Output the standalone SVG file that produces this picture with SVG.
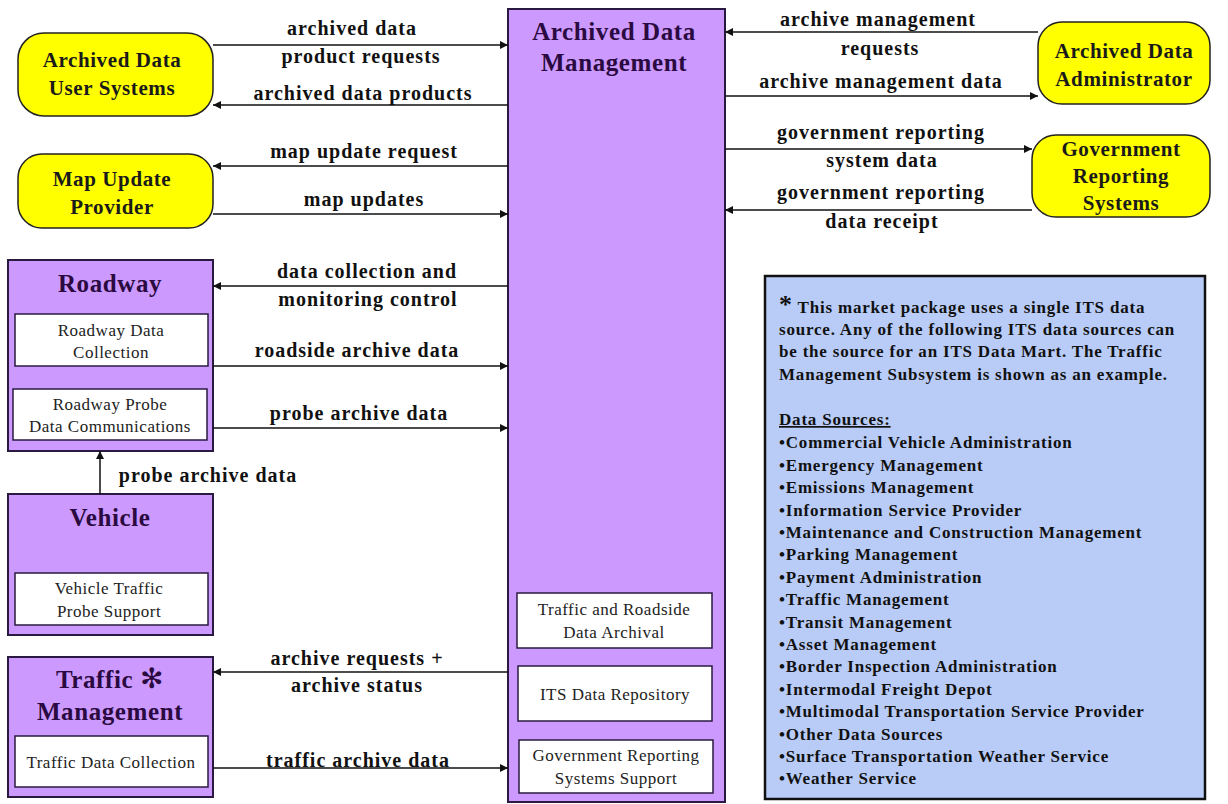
<svg xmlns="http://www.w3.org/2000/svg" width="1228" height="804" viewBox="0 0 1228 804">
<defs>
<marker id="ah" viewBox="0 0 10 10" refX="10" refY="5" markerWidth="10" markerHeight="8" markerUnits="userSpaceOnUse" orient="auto"><path d="M0,0 L10,5 L0,10 z" fill="#111"/></marker>
</defs>
<style>
.term{fill:#ffff00;stroke:#222;stroke-width:1.5}
.sub{fill:#cc99ff;stroke:#2a1a40;stroke-width:2}
.inner{fill:#ffffff;stroke:#2a1a40;stroke-width:1.5}
.note{fill:#b9ccf8;stroke:#111;stroke-width:2.5}
.lbl{font-family:"Liberation Serif",serif;font-weight:bold;font-size:20px;letter-spacing:1px;fill:#111;text-anchor:middle}
.tt{font-family:"Liberation Serif",serif;font-weight:bold;font-size:21px;letter-spacing:0.6px;fill:#1a1a1a;text-anchor:middle}
.st{font-family:"Liberation Serif",serif;font-weight:bold;font-size:25px;letter-spacing:0.6px;fill:#2a0a40;text-anchor:middle}
.it{font-family:"Liberation Serif",serif;font-size:17px;letter-spacing:0.5px;fill:#222;text-anchor:middle}
.nt{font-family:"Liberation Serif",serif;font-weight:bold;font-size:17px;letter-spacing:0.8px;fill:#111}
.cn{stroke:#111;stroke-width:1.5;fill:none;marker-end:url(#ah)}
</style>
<rect width="1228" height="804" fill="#ffffff"/>

<g id="archived-data-management">
<rect class="sub" x="508" y="9" width="217" height="793"/>
<text class="st" x="614" y="40">Archived Data</text>
<text class="st" x="614" y="71">Management</text>
<rect class="inner" x="517" y="593" width="195" height="55"/>
<text class="it" x="614" y="615">Traffic and Roadside</text>
<text class="it" x="614" y="638">Data Archival</text>
<rect class="inner" x="518" y="666" width="194" height="55"/>
<text class="it" x="615" y="700">ITS Data Repository</text>
<rect class="inner" x="519" y="740" width="194" height="53"/>
<text class="it" x="616" y="761">Government Reporting</text>
<text class="it" x="616" y="784">Systems Support</text>
</g>

<g id="archived-data-user-systems">
<rect class="term" x="18" y="33" width="195" height="83" rx="26"/>
<text class="tt" x="112" y="67">Archived Data</text>
<text class="tt" x="112" y="95">User Systems</text>
</g>

<g id="map-update-provider">
<rect class="term" x="18" y="154" width="195" height="74" rx="24"/>
<text class="tt" x="112" y="186">Map Update</text>
<text class="tt" x="112" y="214">Provider</text>
</g>

<g id="archived-data-administrator">
<rect class="term" x="1038" y="22" width="172" height="82" rx="24"/>
<text class="tt" x="1124" y="58">Archived Data</text>
<text class="tt" x="1124" y="86">Administrator</text>
</g>

<g id="government-reporting-systems">
<rect class="term" x="1032" y="135" width="178" height="82" rx="24"/>
<text class="tt" x="1121" y="156">Government</text>
<text class="tt" x="1121" y="183">Reporting</text>
<text class="tt" x="1121" y="210">Systems</text>
</g>

<g id="roadway">
<rect class="sub" x="8" y="260" width="205" height="191"/>
<text class="st" x="110" y="292">Roadway</text>
<rect class="inner" x="15" y="314" width="193" height="52"/>
<text class="it" x="111" y="336">Roadway Data</text>
<text class="it" x="111" y="358">Collection</text>
<rect class="inner" x="13" y="389" width="194" height="51"/>
<text class="it" x="110" y="410">Roadway Probe</text>
<text class="it" x="110" y="432">Data Communications</text>
</g>

<g id="vehicle">
<rect class="sub" x="8" y="494" width="205" height="141"/>
<text class="st" x="110" y="526">Vehicle</text>
<rect class="inner" x="15" y="573" width="193" height="52"/>
<text class="it" x="109" y="594">Vehicle  Traffic</text>
<text class="it" x="109" y="617">Probe Support</text>
</g>

<g id="traffic-management">
<rect class="sub" x="8" y="657" width="205" height="140"/>
<text class="st" x="110" y="688">Traffic <tspan font-family="DejaVu Sans,sans-serif" font-size="28px">✻</tspan></text>
<text class="st" x="110" y="720">Management</text>
<rect class="inner" x="15" y="736" width="193" height="51"/>
<text class="it" x="111" y="768">Traffic Data Collection</text>
</g>

<g id="note">
<rect class="note" x="765" y="276" width="440" height="523"/>
<text class="nt" x="779" y="313"><tspan font-size="26px">*</tspan> This market package uses a single ITS data</text>
<text class="nt" x="779" y="335">source. Any of the following ITS data sources can</text>
<text class="nt" x="779" y="357">be the source for an ITS Data Mart. The Traffic</text>
<text class="nt" x="779" y="380">Management Subsystem is shown as an example.</text>
<text class="nt" x="779" y="425" text-decoration="underline">Data Sources:</text>
<text class="nt" x="779" y="448">•Commercial Vehicle Administration</text>
<text class="nt" x="779" y="471">•Emergency Management</text>
<text class="nt" x="779" y="493">•Emissions Management</text>
<text class="nt" x="779" y="516">•Information Service Provider</text>
<text class="nt" x="779" y="538">•Maintenance and Construction Management</text>
<text class="nt" x="779" y="560">•Parking Management</text>
<text class="nt" x="779" y="583">•Payment Administration</text>
<text class="nt" x="779" y="605">•Traffic Management</text>
<text class="nt" x="779" y="628">•Transit Management</text>
<text class="nt" x="779" y="650">•Asset Management</text>
<text class="nt" x="779" y="672">•Border Inspection Administration</text>
<text class="nt" x="779" y="695">•Intermodal Freight Depot</text>
<text class="nt" x="779" y="717">•Multimodal Transportation Service Provider</text>
<text class="nt" x="779" y="740">•Other Data Sources</text>
<text class="nt" x="779" y="762">•Surface Transportation Weather Service</text>
<text class="nt" x="779" y="784">•Weather Service</text>
</g>

<g id="connectors">
<line class="cn" x1="213" y1="45" x2="508" y2="45"/>
<line class="cn" x1="508" y1="105" x2="213" y2="105"/>
<line class="cn" x1="508" y1="166" x2="213" y2="166"/>
<line class="cn" x1="213" y1="214" x2="508" y2="214"/>
<line class="cn" x1="1038" y1="32" x2="725" y2="32"/>
<line class="cn" x1="725" y1="96" x2="1038" y2="96"/>
<line class="cn" x1="725" y1="149" x2="1032" y2="149"/>
<line class="cn" x1="1032" y1="210" x2="725" y2="210"/>
<line class="cn" x1="508" y1="286" x2="213" y2="286"/>
<line class="cn" x1="213" y1="366" x2="508" y2="366"/>
<line class="cn" x1="213" y1="428" x2="508" y2="428"/>
<line class="cn" x1="100" y1="494" x2="100" y2="451"/>
<line class="cn" x1="508" y1="672" x2="213" y2="672"/>
<line class="cn" x1="213" y1="768" x2="508" y2="768"/>
<g>
<text class="lbl" x="352" y="35">archived data</text>
<text class="lbl" x="361" y="63">product requests</text>
<text class="lbl" x="363" y="100">archived data products</text>
<text class="lbl" x="364" y="158">map update request</text>
<text class="lbl" x="364" y="206">map updates</text>
<text class="lbl" x="878" y="26">archive management</text>
<text class="lbl" x="880" y="55">requests</text>
<text class="lbl" x="881" y="88">archive management data</text>
<text class="lbl" x="881" y="139">government reporting</text>
<text class="lbl" x="882" y="167">system data</text>
<text class="lbl" x="881" y="199">government reporting</text>
<text class="lbl" x="882" y="228">data receipt</text>
<text class="lbl" x="367" y="278">data collection and</text>
<text class="lbl" x="368" y="306">monitoring control</text>
<text class="lbl" x="357" y="357">roadside archive data</text>
<text class="lbl" x="359" y="420">probe archive data</text>
<text class="lbl" x="208" y="482">probe archive data</text>
<text class="lbl" x="357" y="665">archive requests +</text>
<text class="lbl" x="357" y="692">archive status</text>
<text class="lbl" x="358" y="767">traffic archive data</text>
</g>
</g>
</svg>
